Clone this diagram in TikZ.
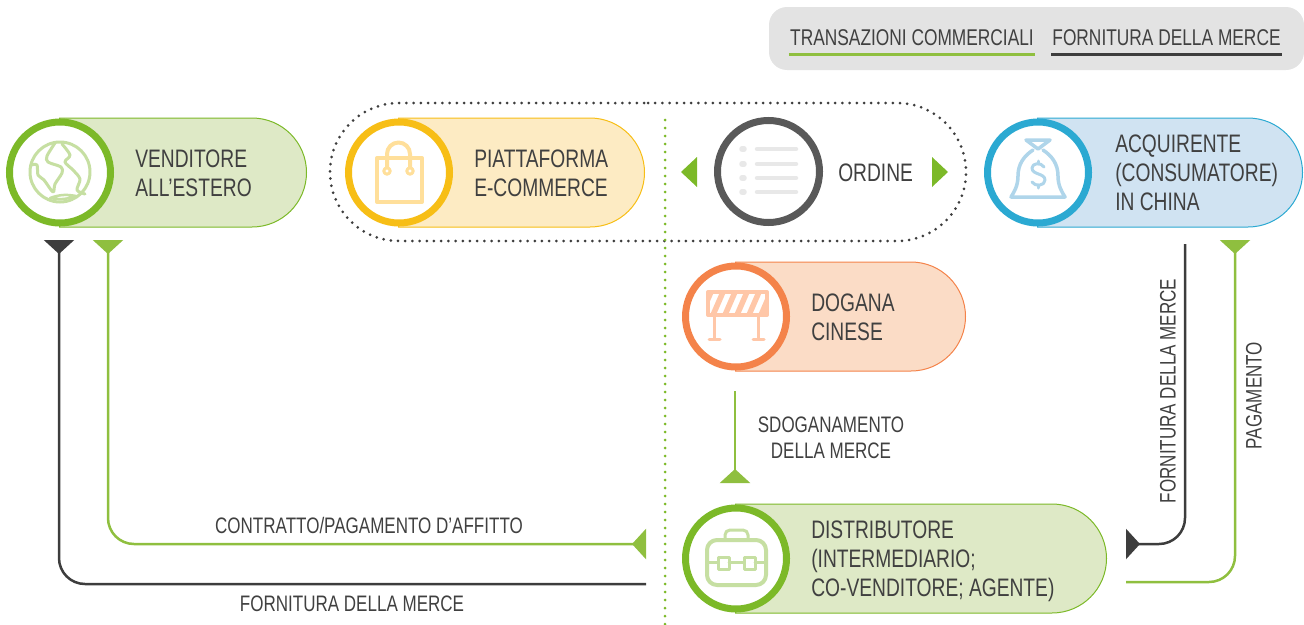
\documentclass[tikz,border=0pt]{standalone}
\usepackage{fontspec}
\setmainfont[FakeStretch=0.76]{Liberation Sans}
\definecolor{TradeGreen}{HTML}{8FBF3F}
\definecolor{SupplyDark}{HTML}{3D3D3D}
\definecolor{TextDark}{HTML}{404040}
\definecolor{RingGreen}{HTML}{7CB928}
\definecolor{SoftGreen}{HTML}{DEE9C6}
\definecolor{IconGreen}{HTML}{C6DFA2}
\definecolor{RingYellow}{HTML}{F7BE16}
\definecolor{SoftYellow}{HTML}{FDEBC3}
\definecolor{IconYellow}{HTML}{FFDF9A}
\definecolor{RingBlue}{HTML}{2BA9D2}
\definecolor{SoftBlue}{HTML}{D0E3F2}
\definecolor{IconBlue}{HTML}{AFD5EA}
\definecolor{RingOrange}{HTML}{F4834A}
\definecolor{SoftOrange}{HTML}{FBDCC6}
\definecolor{IconOrange}{HTML}{FFC7A8}
\definecolor{RingGrey}{HTML}{595959}
\definecolor{IconGrey}{HTML}{E8E8E8}
\usetikzlibrary{positioning,shapes.misc,arrows.meta}

\begin{document}
\begin{tikzpicture}[x=1pt, y=-1pt, line width=2.5pt,
    >={Triangle[reversed,length=14pt,width=30pt]},
    pill/.style={
    rounded rectangle,
    rounded rectangle left arc=none,
    minimum height=109pt,
    inner sep=0pt,
    anchor=east,
    line width=1pt},
    ring/.style={
    circle,
    draw,
    fill=white,
    line width=7pt,
    minimum size=101pt,
    inner sep=0pt},
    itemtext/.style={
    inner sep=0pt,
    align=left,
    text=TextDark,
    font=\fontsize{25.3}{29}\selectfont},
    flowtext/.style={
    inner sep=0pt,
    align=center,
    text=TextDark,
    font=\fontsize{22.4}{26}\selectfont},
    legendtext/.style={
    inner sep=0pt,
    text=TextDark,
    font=\fontsize{22.8}{26}\selectfont},
    trade/.style={color=TradeGreen, rounded corners=26pt},
    supply/.style={color=SupplyDark, rounded corners=26pt},
    icon/.style={line width=4pt, line join=round, line cap=round}]
    \useasboundingbox (0,0) rectangle (1304,624);

    % legend
    \node [rounded corners=18pt, fill=black!11, minimum width=535pt, minimum height=63pt,
           inner sep=0pt] (Legend) at (1036.5,38.5) {};
    \node [legendtext] (LegendTrade) at (912,38) {TRANSAZIONI COMMERCIALI};
    \node [legendtext] (LegendSupply) at (1166.5,38) {FORNITURA DELLA MERCE};
    \draw[color=TradeGreen, line width=3pt] (LegendTrade.west |- 0,54) -- (LegendTrade.east |- 0,54);
    \draw[color=SupplyDark, line width=3pt] (LegendSupply.west |- 0,54) -- (LegendSupply.east |- 0,54);

    % dotted frame and border line
    \node [rounded rectangle, draw=SupplyDark, line width=3pt, line cap=round, dash pattern=on 0pt off 7.2pt,
           minimum width=636pt, minimum height=138pt, inner sep=0pt] (Platform) at (648,172) {};
    \draw[color=RingGreen, line width=3pt, line cap=round, dash pattern=on 0pt off 8pt] (665,120) -- (665,624);

    % pills
    \node [pill, draw=RingGreen, fill=SoftGreen, minimum width=247pt] (VenditorePill) at (307,172.5) {};
    \node [pill, draw=RingYellow, fill=SoftYellow, minimum width=246pt] (PiattaformaPill) at (645,172.5) {};
    \node [pill, draw=RingBlue, fill=SoftBlue, minimum width=265pt] (AcquirentePill) at (1303,172.5) {};
    \node [pill, draw=RingOrange, fill=SoftOrange, minimum width=230pt] (DoganaPill) at (966,316.5) {};
    \node [pill, draw=RingGreen, fill=SoftGreen, minimum width=371pt] (DistributorePill) at (1107,558.5) {};

    % rings
    \node [ring, draw=RingGreen] (Venditore) at (60,172.5) {};
    \node [ring, draw=RingYellow] (Piattaforma) at (399,172.5) {};
    \node [ring, draw=RingGrey, minimum size=102pt] (Ordine) at (768.5,171.5) {};
    \node [ring, draw=RingBlue] (Acquirente) at (1038,172.5) {};
    \node [ring, draw=RingOrange] (Dogana) at (736,316.5) {};
    \node [ring, draw=RingGreen] (Distributore) at (736,558.5) {};

    % names
    \node [itemtext, right=20pt of Venditore, yshift=-1pt] (VenditoreText) {VENDITORE\\ALL’ESTERO};
    \node [itemtext, right=20pt of Piattaforma, yshift=-1pt] (PiattaformaText) {PIATTAFORMA\\E-COMMERCE};
    \node [itemtext, right=14pt of Ordine, yshift=-1pt] (OrdineText) {ORDINE};
    \node [itemtext, right=22pt of Acquirente, yshift=-0.5pt] (AcquirenteText) {ACQUIRENTE\\(CONSUMATORE)\\IN CHINA};
    \node [itemtext, right=20pt of Dogana, yshift=-1pt] (DoganaText) {DOGANA\\CINESE};
    \node [itemtext, right=20pt of Distributore, yshift=-2.5pt] (DistributoreText) {DISTRIBUTORE\\(INTERMEDIARIO;\\CO-VENDITORE; AGENTE)};

    % order triangles
    \fill[color=RingGreen] (681,172) -- (697,157) -- (697,187) -- cycle;
    \fill[color=RingGreen] (948,172) -- (932,157) -- (932,187) -- cycle;

    % icons
    \draw[icon, color=IconGreen, line width=3pt] (60,172) circle (30);
    \draw[icon, color=IconGreen, line width=3pt, smooth] plot coordinates {(55,143) (47,156) (48,162) (61,167) (62,173) (55,184) (53,192) (44,180) (38,175) (37,165) (31,165)};
    \draw[icon, color=IconGreen, line width=3pt, smooth] plot coordinates {(62,144) (70,155) (65,162) (73,170) (80,179) (77,190) (85,194)};
    \draw[icon, color=IconGreen, line width=2.5pt] (50,198) to[bend left=15] (76,196) to[bend left=15] (50,198);

    \draw[icon, color=IconYellow] (377,158) rectangle (422,202);
    \draw[icon, color=IconYellow] (387,167) -- (387,154) arc[start angle=180, end angle=360, radius=11.5] -- (410,167);
    \draw[icon, color=IconYellow, line width=3pt, fill=white] (387,171) circle (3.2) (410,171) circle (3.2);

    \foreach \y in {149,164,178,192} {
      \draw[color=IconGrey, line width=4.5pt, line cap=round] (757,\y) -- (796,\y);
      \draw[color=IconGrey, line width=5.5pt, line cap=round] (742,\y) -- (744,\y);
    }

    \draw[icon, color=IconBlue, line width=3.5pt] (1026,140) -- (1050,140) -- (1038,149) -- cycle;
    \draw[icon, color=IconBlue, line width=3.5pt] (1033,150) .. controls (1024,156) and (1018,164) .. (1018,176)
      .. controls (1018,186) and (1014,192) .. (1011,197) -- (1065,197)
      .. controls (1062,192) and (1058,186) .. (1058,176)
      .. controls (1058,164) and (1052,156) .. (1043,150);
    \draw[icon, color=IconBlue, line width=3pt] (1044,167) .. controls (1041,162) and (1032,163) .. (1032,168)
      .. controls (1032,175) and (1045,173) .. (1045,180)
      .. controls (1045,186) and (1035,187) .. (1032,182);
    \draw[icon, color=IconBlue, line width=3pt] (1038,161) -- (1038,163) (1038,186) -- (1038,188);

    \begin{scope}
      \clip (708,292) rectangle (767,315);
      \foreach \x in {698,710,...,770} {
        \fill[color=IconOrange] (\x,315) -- (\x+6,315) -- (\x+16,292) -- (\x+10,292) -- cycle;
      }
    \end{scope}
    \draw[icon, color=IconOrange] (708,292) rectangle (767,315);
    \draw[icon, color=IconOrange, line width=3pt] (714,317) -- (714,339) (758,317) -- (758,339) (709,339) -- (720,339) (753,339) -- (764,339);

    \draw[icon, color=IconGreen, rounded corners=10pt] (707,540) rectangle (766,585);
    \draw[icon, color=IconGreen, line width=3pt, rounded corners=5pt] (725,539) -- (725,530) -- (748,530) -- (748,539);
    \draw[icon, color=IconGreen, line width=3pt] (718,557) rectangle (729,569) (744,557) rectangle (755,569);
    \draw[icon, color=IconGreen, line width=3pt] (707,562) -- (718,562) (729,562) -- (744,562) (755,562) -- (766,562);

    % ends of the connectors
    \coordinate (VenditoreSupply) at (59,240);
    \coordinate (VenditoreTrade) at (108,240);
    \coordinate (AcquirenteSupply) at (1185,244);
    \coordinate (AcquirenteTrade) at (1235,240);
    \coordinate (DoganaOut) at (735,391);
    \coordinate (DistributoreIn) at (735,483);
    \coordinate (DistributoreLeftTrade) at (646,544);
    \coordinate (DistributoreLeftSupply) at (646,584);
    \coordinate (DistributoreRightSupply) at (1126,544);
    \coordinate (DistributoreRightTrade) at (1126,582);

    \draw[->, trade] (DoganaOut) -- (DistributoreIn);
    \draw[<->, trade] (DistributoreLeftTrade) -| (VenditoreTrade);
    \draw[->, supply] (DistributoreLeftSupply) -| (VenditoreSupply);
    \draw[->, supply] (AcquirenteSupply) |- (DistributoreRightSupply);
    \draw[->, trade] (DistributoreRightTrade) -| (AcquirenteTrade);

    % connector labels
    \node [flowtext] (SdoganamentoText) at (831,437.5) {SDOGANAMENTO\\DELLA MERCE};
    \node [flowtext] (ContrattoText) at (369,525) {CONTRATTO/PAGAMENTO D’AFFITTO};
    \node [flowtext] (FornituraText) at (352,604) {FORNITURA DELLA MERCE};
    \node [flowtext, rotate=90] (FornituraRightText) at (1168,391) {FORNITURA DELLA MERCE};
    \node [flowtext, rotate=90] (PagamentoText) at (1254,395.5) {PAGAMENTO};
\end{tikzpicture}
\end{document}
